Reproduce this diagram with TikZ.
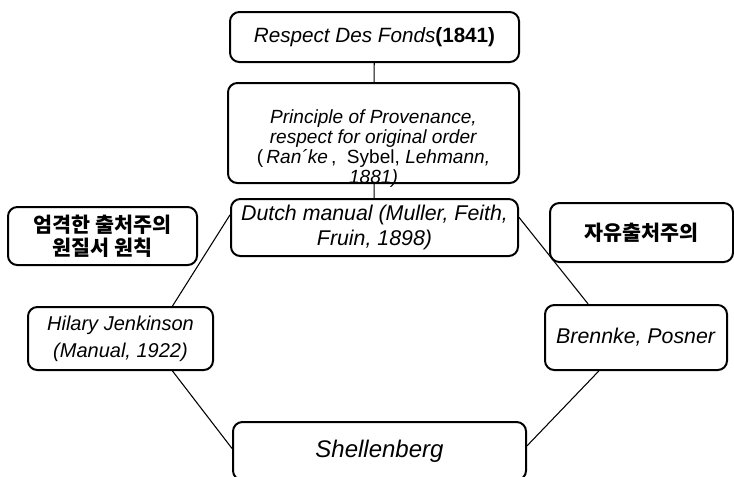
\documentclass[tikz,border=0pt]{standalone}
\usepackage{fontspec}
\setmainfont{Liberation Sans}
\newfontfamily\krfont{Noto Sans CJK KR}
\usetikzlibrary{calc}
\tikzset{
  % Rounded box
  box/.style={draw, line width=1.5pt, rounded corners=7pt, inner sep=0pt,
    align=center, fill=white},
  % Korean labels
  kbox/.style={box, font=\krfont\bfseries\fontsize{15.5}{17}\selectfont},
  % Connectors
  link/.style={line width=0.8pt},
}

\begin{document}
\begin{tikzpicture}[x=0.75pt, y=-0.75pt]
  \useasboundingbox (0,0) rectangle (734,476);

  % main line
  \node[box, minimum width=216.75pt, minimum height=37.5pt,
    font=\fontsize{15.5}{17}\selectfont] (fonds) at (374.5,37)
    {\textit{Respect Des Fonds}\textbf{(1841)}};
  \node[box, minimum width=218.25pt, minimum height=75pt] (prov) at (373.5,133) {};
  \node[align=center, inner sep=0pt, font=\fontsize{14.3}{15}\selectfont] (provtext)
    at (373.5,149)
    {\textit{Principle of Provenance,}\\
     \textit{respect for original order}\\
     (\,\textit{Ran´ke}\,,\ \ Sybel, \textit{Lehmann,}\\
     \textit{1881)}};
  \node[box, minimum width=215.25pt, minimum height=42.75pt,
    font=\fontsize{16}{18.75}\selectfont] (dutch) at (374.5,227.5)
    {\textit{Dutch manual (Muller, Feith,}\\ \textit{Fruin, 1898)}};

  % side notes
  \node[kbox, minimum width=141.75pt, minimum height=43.5pt] (strict) at (102.5,236)
    {엄격한 출처주의\\원질서 원칙};
  \node[kbox, minimum width=137.25pt, minimum height=44.25pt] (free) at (641.5,232.5)
    {자유출처주의};

  % branches
  \node[box, minimum width=138.75pt, minimum height=47.25pt,
    font=\fontsize{15}{20}\selectfont] (hilary) at (120.5,338.5)
    {\textit{Hilary Jenkinson}\\ \textit{(Manual, 1922)}};
  \node[box, minimum width=136.5pt, minimum height=48.75pt,
    font=\fontsize{16}{18}\selectfont] (brennke) at (636,337.5)
    {\textit{Brennke, Posner}};
  \node[box, minimum width=219.75pt, minimum height=43.5pt,
    font=\fontsize{18}{20}\selectfont] (shell) at (379.5,451)
    {\textit{Shellenberg}};

  \draw[link] (fonds) -- (prov);
  \draw[link] (prov) -- (dutch);
  \draw[link] (dutch.175) -- (hilary.32.5);
  \draw[link] (hilary.-32.5) -- (shell.179);
  \draw[link] (dutch.4) -- (brennke.145);
  \draw[link] (brennke.222) -- (shell.2);
\end{tikzpicture}
\end{document}
